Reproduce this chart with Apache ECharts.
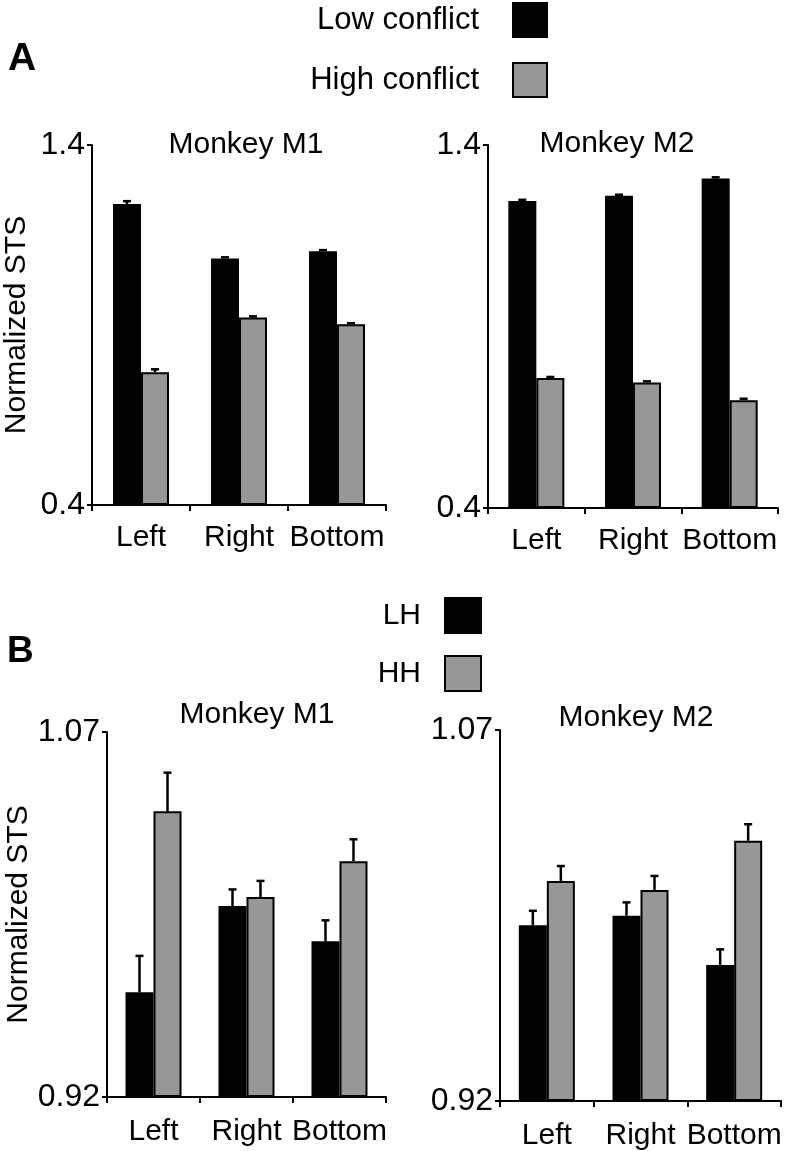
<!DOCTYPE html>
<html><head><meta charset="utf-8">
<script src="https://cdn.jsdelivr.net/npm/echarts@6/dist/echarts.min.js"></script>
<style>html,body{margin:0;padding:0;background:#fff}#c{width:788px;height:1151px}</style>
</head><body><div id="c"></div>
<script>
const categories = ['Left', 'Right', 'Bottom'];
const legendA = ['Low conflict', 'High conflict'];
const legendB = ['LH', 'HH'];
const titles = ['Monkey M1', 'Monkey M2'];
const panelLetters = ['A', 'B'];
const yTicksA = [0.4, 1.4];
const yTicksB = [0.92, 1.07];
const yName = 'Normalized STS';

// Panel A
const A_M1_low = [1.236, 1.085, 1.105];
const A_M1_low_err = [0.008, 0.003, 0.003];
const A_M1_high = [0.769, 0.921, 0.902];
const A_M1_high_err = [0.008, 0.003, 0.003];
const A_M2_low = [1.246, 1.260, 1.308];
const A_M2_low_err = [0.003, 0.003, 0.003];
const A_M2_high = [0.758, 0.746, 0.697];
const A_M2_high_err = [0.003, 0.003, 0.004];

// Panel B
const B_M1_LH = [0.963, 0.9985, 0.984];
const B_M1_LH_err = [0.015, 0.0068, 0.0086];
const B_M1_HH = [1.0374, 1.0022, 1.0169];
const B_M1_HH_err = [0.0159, 0.0066, 0.009];
const B_M2_LH = [0.9911, 0.9949, 0.975];
const B_M2_LH_err = [0.0058, 0.0054, 0.0063];
const B_M2_HH = [1.0089, 1.0053, 1.0252];
const B_M2_HH_err = [0.0061, 0.0057, 0.0067];

const FONT = '"Liberation Sans", Arial, Helvetica, sans-serif';
const BLACK = '#000000';
const GREY = '#979797';

const grids = [
  {left: 92, width: 294, top: 145, height: 360},
  {left: 488, width: 290, top: 145, height: 363},
  {left: 107, width: 279, top: 732, height: 365},
  {left: 500, width: 281, top: 730, height: 371}
];
const barW = [28, 28, 28, 28];

function xAxis(gi, margin) {
  return {
    gridIndex: gi, type: 'category', data: categories,
    axisLine: {show: true, lineStyle: {color: BLACK, width: 2}},
    axisTick: {show: true, length: 6, lineStyle: {color: BLACK, width: 2}},
    axisLabel: {fontSize: 30, color: BLACK, fontFamily: FONT, margin: margin, interval: 0, hideOverlap: false},
    splitLine: {show: false}
  };
}
function yAxis(gi, ticks, withName, nameGap) {
  return {
    gridIndex: gi, type: 'value', min: ticks[0], max: ticks[ticks.length - 1],
    startValue: ticks[0],
    name: withName ? yName : '', nameLocation: 'middle', nameGap: nameGap,
    nameTextStyle: {fontSize: 30, color: BLACK, fontFamily: FONT},
    axisLine: {show: true, lineStyle: {color: BLACK, width: 2}},
    axisTick: {show: true, length: 5, lineStyle: {color: BLACK, width: 2}, customValues: ticks},
    axisLabel: {fontSize: 32, color: BLACK, fontFamily: FONT, margin: 7, customValues: ticks,
      formatter: v => String(v)},
    splitLine: {show: false}
  };
}
function bar(gi, name, vals, color, bw) {
  return {
    type: 'bar', name: name, xAxisIndex: gi, yAxisIndex: gi, data: vals,
    barWidth: bw, barGap: '0%', clip: true,
    itemStyle: {color: color, borderColor: BLACK, borderWidth: 2},
    silent: true, z: 2
  };
}
function errBar(gi, vals, errs, side, bw, capW) {
  return {
    type: 'custom', xAxisIndex: gi, yAxisIndex: gi, silent: true, z: 3,
    data: vals.map((v, i) => [i, v, v + errs[i]]),
    encode: {x: 0, y: [1, 2]},
    renderItem: function (params, api) {
      const p0 = api.coord([api.value(0), api.value(1)]);
      const p1 = api.coord([api.value(0), api.value(2)]);
      const x = p0[0] + side * bw / 2;
      return {
        type: 'group', children: [
          {type: 'line', shape: {x1: x, y1: p0[1], x2: x, y2: p1[1]}, style: {stroke: BLACK, lineWidth: 2.5}},
          {type: 'line', shape: {x1: x - capW / 2, y1: p1[1], x2: x + capW / 2, y2: p1[1]}, style: {stroke: BLACK, lineWidth: 2.5}}
        ]
      };
    }
  };
}

const series = [
  bar(0, legendA[0], A_M1_low, BLACK, barW[0]), bar(0, legendA[1], A_M1_high, GREY, barW[0]),
  bar(1, legendA[0], A_M2_low, BLACK, barW[1]), bar(1, legendA[1], A_M2_high, GREY, barW[1]),
  bar(2, legendB[0], B_M1_LH, BLACK, barW[2]), bar(2, legendB[1], B_M1_HH, GREY, barW[2]),
  bar(3, legendB[0], B_M2_LH, BLACK, barW[3]), bar(3, legendB[1], B_M2_HH, GREY, barW[3]),
  errBar(0, A_M1_low, A_M1_low_err, -1, barW[0], 8), errBar(0, A_M1_high, A_M1_high_err, 1, barW[0], 8),
  errBar(1, A_M2_low, A_M2_low_err, -1, barW[1], 8), errBar(1, A_M2_high, A_M2_high_err, 1, barW[1], 8),
  errBar(2, B_M1_LH, B_M1_LH_err, -1, barW[2], 8), errBar(2, B_M1_HH, B_M1_HH_err, 1, barW[2], 8),
  errBar(3, B_M2_LH, B_M2_LH_err, -1, barW[3], 8), errBar(3, B_M2_HH, B_M2_HH_err, 1, barW[3], 8)
];

function legend(data, right, top, iw, ih, gap, fs, textGap) {
  return {
    data: data, orient: 'vertical', align: 'right', right: right, top: top, padding: 0,
    itemWidth: iw, itemHeight: ih, itemGap: gap, selectedMode: false, icon: 'rect',
    itemStyle: {borderColor: BLACK, borderWidth: 2},
    textStyle: {fontSize: fs, color: BLACK, fontFamily: FONT, padding: [0, textGap, 0, 0]}
  };
}

function txt(x, y, s, size, weight, align) {
  return {
    type: 'text', x: x, y: y, silent: true,
    style: {text: s, fill: BLACK, font: weight + ' ' + size + 'px ' + FONT,
      align: align, verticalAlign: 'middle', textAlign: align, textVerticalAlign: 'middle'}
  };
}

const chart = echarts.init(document.getElementById('c'), null, {renderer: 'canvas'});
chart.setOption({
  backgroundColor: '#ffffff',
  animation: false,
  grid: grids,
  xAxis: [xAxis(0, 18), xAxis(1, 18), xAxis(2, 20), xAxis(3, 20)],
  yAxis: [yAxis(0, yTicksA, true, 60), yAxis(1, yTicksA, false, 0), yAxis(2, yTicksB, true, 70), yAxis(3, yTicksB, false, 0)],
  legend: [
    legend(legendA, 240, 2, 34, 34, 24, 31, 29),
    legend(legendB, 306, 597, 36, 35, 21, 30, 19)
  ],
  series: series,
  graphic: [
    txt(8, 59, panelLetters[0], 39, 'bold', 'left'),
    txt(7, 652, panelLetters[1], 37, 'bold', 'left'),
    txt(246, 144.5, titles[0], 30, 'normal', 'center'),
    txt(617, 143.5, titles[1], 30, 'normal', 'center'),
    txt(257, 715, titles[0], 30, 'normal', 'center'),
    txt(636, 718, titles[1], 30, 'normal', 'center')
  ]
});
</script></body></html>
